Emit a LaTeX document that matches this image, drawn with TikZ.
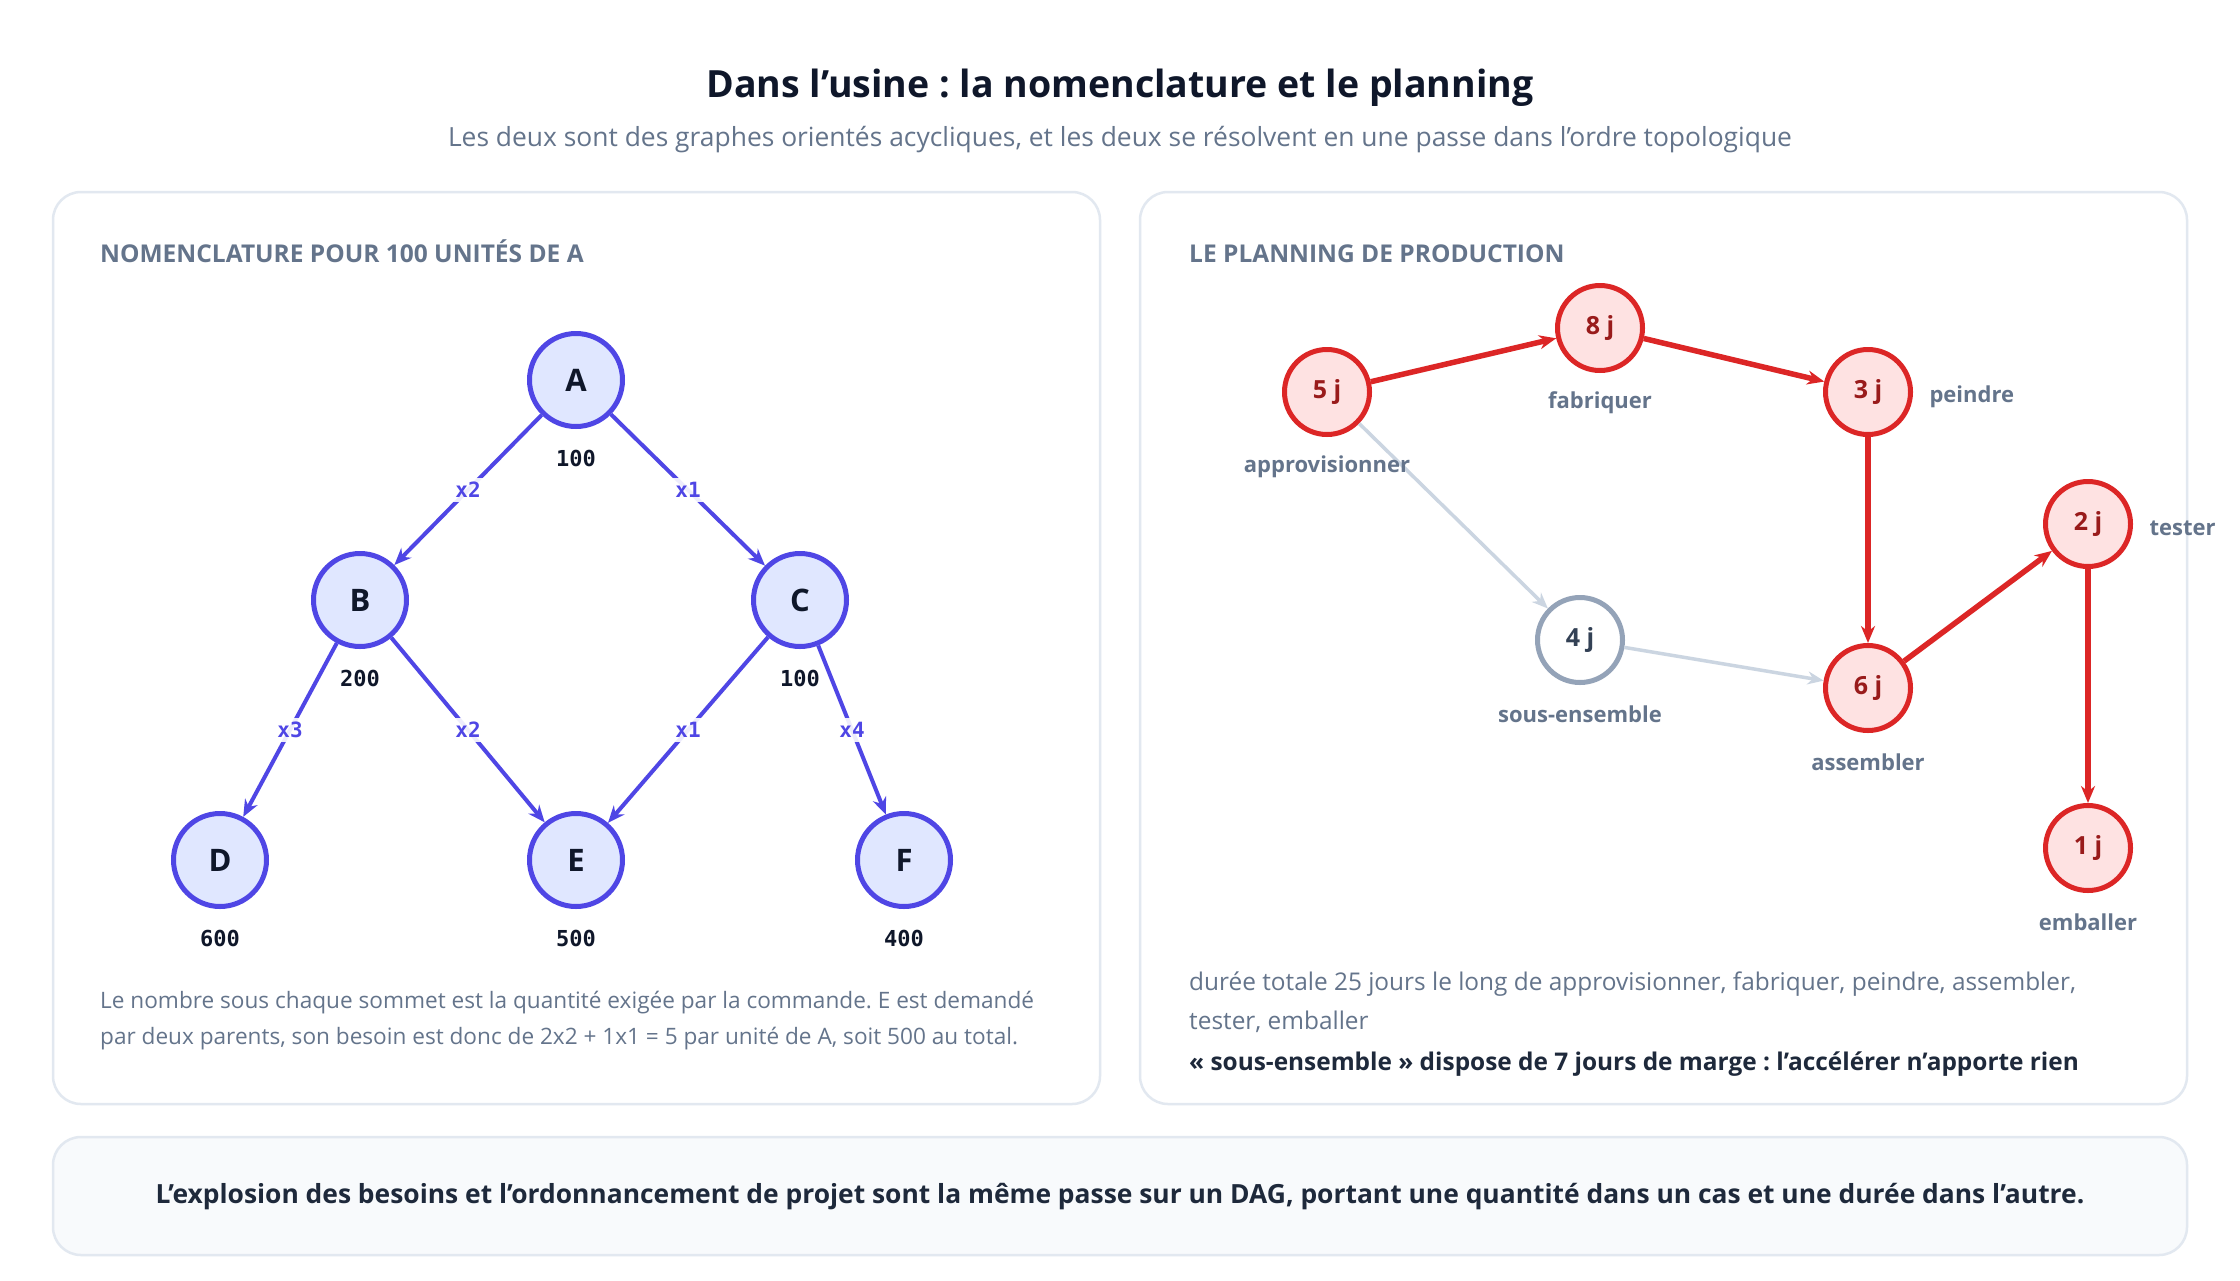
\documentclass[tikz,border=0pt]{standalone}
\usepackage{fontspec}
\setmainfont{Open Sans}
\setmonofont{DejaVu Sans Mono}
\usetikzlibrary{arrows.meta}
\frenchspacing
\definecolor{ink}{HTML}{0F172A}
\definecolor{slate}{HTML}{64748B}
\definecolor{dark}{HTML}{1E293B}
\definecolor{panelborder}{HTML}{E2E8F0}
\definecolor{panelfill}{HTML}{F8FAFC}
\definecolor{indigo}{HTML}{4F46E5}
\definecolor{indigofill}{HTML}{E0E7FF}
\definecolor{redline}{HTML}{DC2626}
\definecolor{redfill}{HTML}{FEE2E2}
\definecolor{redtext}{HTML}{991B1B}
\definecolor{grayline}{HTML}{94A3B8}
\definecolor{graylight}{HTML}{CBD5E1}
\definecolor{graytext}{HTML}{334155}
\tikzset{
  panel/.style={draw=panelborder, line width=2.5pt, rounded corners=28pt, fill=white},
  bompanel/.style={draw=panelborder, line width=2.5pt, rounded corners=28pt, fill=panelfill},
  bomnode/.style={circle, draw=indigo, fill=indigofill, line width=5pt, minimum size=93pt, inner sep=0pt,
    font=\fontsize{31}{36}\selectfont\bfseries, text=ink},
  qty/.style={font=\ttfamily\bfseries\fontsize{22}{26}\selectfont, text=ink},
  bomedge/.style={draw=indigo, line width=4pt, -{Stealth[length=17pt,width=14pt]}},
  elab/.style={fill=white, fill opacity=0.9, text opacity=1, inner sep=4pt, text=indigo, font=\ttfamily\bfseries\fontsize{21}{24}\selectfont},
  tasknode/.style={circle, draw=redline, fill=redfill, line width=5pt, minimum size=85pt, inner sep=0pt,
    font=\fontsize{25}{30}\selectfont\bfseries, text=redtext},
  slacknode/.style={circle, draw=grayline, fill=white, line width=5pt, minimum size=85pt, inner sep=0pt,
    font=\fontsize{25}{30}\selectfont\bfseries, text=graytext},
  critedge/.style={draw=redline, line width=5.5pt, -{Stealth[length=17pt,width=14pt]}},
  slackedge/.style={draw=graylight, line width=3.5pt, -{Stealth[length=16pt,width=13pt]}},
  tlab/.style={text=slate, font=\fontsize{22}{26}\selectfont\bfseries},
  heading/.style={anchor=base west, inner sep=0pt, text=slate, font=\fontsize{24.5}{28}\selectfont\bfseries},
  body/.style={anchor=west, inner sep=0pt, text=slate, font=\fontsize{22.6}{28}\selectfont},
  rbody/.style={anchor=west, inner sep=0pt, text=slate, font=\fontsize{24.4}{28}\selectfont},
}
\begin{document}
\begin{tikzpicture}[x=1pt,y=-1pt]
\fill[white] (0,0) rectangle (2240,1280);
\useasboundingbox (0,0) rectangle (2240,1280);

% title
\node[text=ink, font=\fontsize{37.5}{46}\selectfont\bfseries] (title) at (1120,88) {Dans l’usine : la nomenclature et le planning};
\node[text=slate, font=\fontsize{26.4}{32}\selectfont] (subtitle) at (1120,140) {Les deux sont des graphes orientés acycliques, et les deux se résolvent en une passe dans l’ordre topologique};

% panels
\draw[panel] (53,192) rectangle (1100,1104);
\draw[panel] (1140,192) rectangle (2187,1104);
\draw[bompanel] (53,1137) rectangle (2187,1255);

% left panel
\node[heading] (lhead) at (100,262) {NOMENCLATURE POUR 100 UNITÉS DE A};

\node[bomnode] (A) at (576,380) {A};
\node[bomnode] (B) at (360,600) {B};
\node[bomnode] (C) at (800,600) {C};
\node[bomnode] (D) at (220,860) {D};
\node[bomnode] (E) at (576,860) {E};
\node[bomnode] (F) at (904,860) {F};

\node[qty] (qA) at (576,458) {100};
\node[qty] (qB) at (360,678) {200};
\node[qty] (qC) at (800,678) {100};
\node[qty] (qD) at (220,938) {600};
\node[qty] (qE) at (576,938) {500};
\node[qty] (qF) at (904,938) {400};

\draw[bomedge] (A) -- node[elab] {x2} (B);
\draw[bomedge] (A) -- node[elab] {x1} (C);
\draw[bomedge] (B) -- node[elab] {x3} (D);
\draw[bomedge] (B) -- node[elab] {x2} (E);
\draw[bomedge] (C) -- node[elab] {x1} (E);
\draw[bomedge] (C) -- node[elab] {x4} (F);

\node[body] (lcap1) at (100,1003) {Le nombre sous chaque sommet est la quantité exigée par la commande. E est demandé};
\node[body] (lcap2) at (100,1039) {par deux parents, son besoin est donc de 2x2 + 1x1 = 5 par unité de A, soit 500 au total.};

% right panel
\node[heading] (rhead) at (1189,262) {LE PLANNING DE PRODUCTION};

\node[tasknode] (t5) at (1327,392) {5 j};
\node[tasknode] (t8) at (1600,328) {8 j};
\node[tasknode] (t3) at (1868,392) {3 j};
\node[tasknode] (t2) at (2088,524) {2 j};
\node[slacknode] (t4) at (1580,640) {4 j};
\node[tasknode] (t6) at (1868,688) {6 j};
\node[tasknode] (t1) at (2088,848) {1 j};

\draw[slackedge] (t5) -- (t4);
\draw[slackedge] (t4) -- (t6);
\draw[critedge] (t5) -- (t8);
\draw[critedge] (t8) -- (t3);
\draw[critedge] (t3) -- (t6);
\draw[critedge] (t6) -- (t2);
\draw[critedge] (t2) -- (t1);

\node[tlab] (l5) at (1327,467) {approvisionner};
\node[tlab] (l8) at (1600,403) {fabriquer};
\node[tlab, anchor=west] (l3) at (1926,397) {peindre};
\node[tlab, anchor=west] (l2) at (2146,528) {tester};
\node[tlab] (l4) at (1580,714) {sous-ensemble};
\node[tlab] (l6) at (1868,762) {assembler};
\node[tlab] (l1) at (2088,922) {emballer};

\node[rbody] (rcap1) at (1189,984) {durée totale 25 jours le long de approvisionner, fabriquer, peindre, assembler,};
\node[rbody] (rcap2) at (1189,1022) {tester, emballer};
\node[rbody, text=dark, font=\fontsize{24.4}{28}\selectfont\bfseries] (rcap3) at (1189,1064) {« sous-ensemble » dispose de 7 jours de marge : l’accélérer n’apporte rien};

% bottom
\node[text=dark, font=\fontsize{26.4}{32}\selectfont\bfseries] (bottom) at (1120,1197) {L’explosion des besoins et l’ordonnancement de projet sont la même passe sur un DAG, portant une quantité dans un cas et une durée dans l’autre.};
\end{tikzpicture}
\end{document}
